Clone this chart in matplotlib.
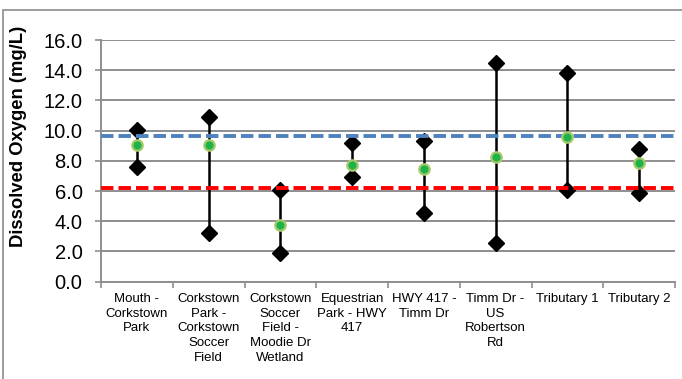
import numpy as np
import matplotlib.pyplot as plt
from matplotlib.patches import Rectangle

plt.rcParams['font.family'] = ['Liberation Sans', 'DejaVu Sans']

# data
sites = ['Mouth -\nCorkstown\nPark', 'Corkstown\nPark -\nCorkstown\nSoccer\nField',
         'Corkstown\nSoccer\nField -\nMoodie Dr\nWetland', 'Equestrian\nPark - HWY\n417',
         'HWY 417 -\nTimm Dr', 'Timm Dr -\nUS\nRobertson\nRd', 'Tributary 1', 'Tributary 2']
do_max = [10.05, 10.9, 6.1, 9.2, 9.3, 14.5, 13.8, 8.8]
do_min = [7.6, 3.25, 1.9, 6.9, 4.55, 2.55, 6.1, 5.85]
do_mean = [9.05, 9.05, 3.75, 7.75, 7.45, 8.25, 9.55, 7.85]
upper_ref = 9.65
lower_ref = 6.2

x = np.arange(1, len(sites) + 1)

fig = plt.figure(figsize=(6.82, 3.79), dpi=100)
ax = fig.add_axes([101 / 682, 1 - 281.7 / 379, 574 / 682, 241.7 / 379])

# outer chart border
fig.patches.append(Rectangle((3 / 682, -0.1), 1.2, 1.1 - 10 / 379, transform=fig.transFigure,
                             fill=False, edgecolor='#8c8c8c', linewidth=1.2))

ax.set_ylim(0, 16)
ax.set_xlim(0.5, len(sites) + 0.5)
ax.set_yticks(np.arange(0, 17, 2))
ax.set_yticklabels(['%.1f' % v for v in np.arange(0, 17, 2)], fontsize=14.5)
ax.yaxis.grid(True, color='#8e8e8e', linewidth=1.4)
ax.set_axisbelow(True)

ax.set_xticks(x)
ax.set_xticklabels(sites, fontsize=9.5, linespacing=1.3, va='top')
ax.set_xticks(np.arange(0.5, len(sites) + 1), minor=True)
ax.tick_params(axis='x', which='major', length=0, pad=8)
ax.tick_params(axis='x', which='minor', length=4, color='#8e8e8e', width=1.2)
ax.tick_params(axis='y', length=4.3, color='#8e8e8e', width=1.2, pad=9)

for s in ['top', 'right']:
    ax.spines[s].set_visible(False)
for s in ['left', 'bottom']:
    ax.spines[s].set_color('#8e8e8e')
    ax.spines[s].set_linewidth(1.4)

# range lines and markers
ax.vlines(x, do_min, do_max, color='black', linewidth=1.8, zorder=3)
ax.plot(x, do_max, 'D', color='black', markersize=8.3, zorder=4, linestyle='none')
ax.plot(x, do_min, 'D', color='black', markersize=8.3, zorder=4, linestyle='none')

ax.axhline(upper_ref, color='#4f81bd', linewidth=2.8, dashes=(3.2, 1.3), zorder=5)
ax.axhline(lower_ref, color='#ff0000', linewidth=2.8, dashes=(3.2, 1.3), zorder=5)

ax.plot(x, do_mean, 'o', markersize=7.5, markerfacecolor='#1db34a',
        markeredgecolor='#a6c96a', markeredgewidth=1.6, linestyle='none', zorder=6)

fig.text(19 / 682, 1 - 136 / 379, 'Dissolved Oxygen (mg/L)', rotation=90, fontsize=13.3,
         fontweight='bold', ha='center', va='center')

fig.savefig('out.png', dpi=100)
